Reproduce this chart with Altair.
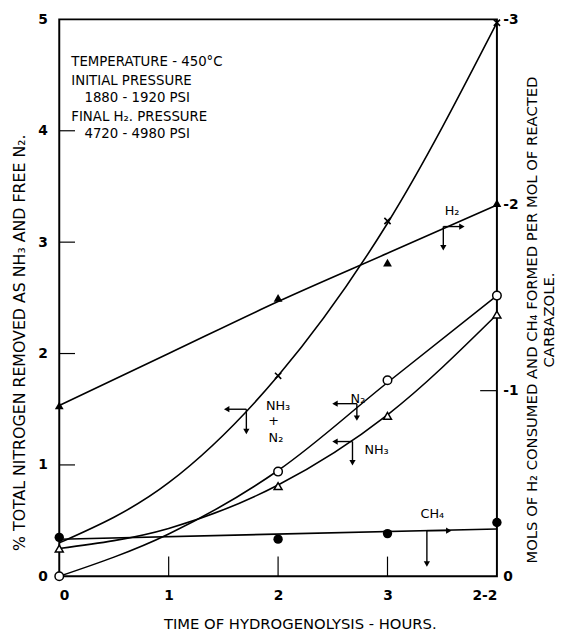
import altair as alt
import pandas as pd

# ---------------- data ----------------
# measured points (markers)
mark_hours = [0, 2, 3, 4]
nh3_n2_hours = [2, 3, 4]
nh3_n2_vals = [1.80, 3.19, 4.97]          # x markers, left axis (%)
n2_vals = [0.0, 0.94, 1.76, 2.52]         # open circles, left axis (%)
nh3_vals = [0.25, 0.81, 1.44, 2.35]       # open triangles, left axis (%)
h2_vals = [0.92, 1.50, 1.69, 2.01]        # filled triangles, right axis (mols)
ch4_vals = [0.21, 0.20, 0.23, 0.29]       # filled circles, right axis (mols)

# smooth drawn curves
curve_hours = [0, 1, 2, 3, 4]
nh3_n2_curve = [0.30, 0.84, 1.80, 3.17, 4.97]
n2_curve = [0.0, 0.38, 0.95, 1.74, 2.52]
nh3_curve = [0.25, 0.43, 0.82, 1.45, 2.35]
h2_curve = [0.92, 1.20, 1.48, 1.74, 2.00]
ch4_line_hours = [0, 4]
ch4_curve = [0.20, 0.255]

# annotation arrows (left-axis units)
arrow_x = [1.71, 2.72, 2.68, 3.51, 3.36]
arrow_y = [1.50, 1.55, 1.21, 3.14, 0.41]
arrow_hx = [1.53, 2.52, 2.52, 3.68, 3.56]
arrow_vy = [1.30, 1.42, 1.02, 2.95, 0.11]
arrow_shape = ["triangle-left", "triangle-left", "triangle-left", "triangle-right", "triangle-right"]

# curve labels
label_text = ["NH₃", "+", "N₂", "N₂", "NH₃", "H₂", "CH₄"]
label_x = [2.0, 1.96, 1.98, 2.73, 2.90, 3.59, 3.41]
label_y = [1.53, 1.39, 1.24, 1.59, 1.13, 3.28, 0.56]

# condition box text
cond_text = ["TEMPERATURE - 450°C", "INITIAL PRESSURE", "1880 - 1920 PSI",
             "FINAL H₂. PRESSURE", "4720 - 4980 PSI"]
cond_x = [0.11, 0.11, 0.23, 0.11, 0.23]
cond_y = [4.62, 4.45, 4.29, 4.12, 3.97]

x_ticks = [0, 1, 2, 3, 4]
x_inner_ticks = [1, 2, 3]
left_ticks = [0, 1, 2, 3, 4, 5]
left_inner_ticks = [1, 2, 3, 4]
right_ticks = [0, 1, 2, 3]
right_inner_ticks = [1]

FONT = "DejaVu Sans"
W, H = 444, 565

# ---------------- tables ----------------
def curve_df(hours, vals, name):
    return pd.DataFrame({"h": hours, "v": vals, "s": name})

left_curves = pd.concat([
    curve_df(curve_hours, nh3_n2_curve, "nh3n2"),
    curve_df(curve_hours, n2_curve, "n2"),
    curve_df(curve_hours, nh3_curve, "nh3"),
])
right_curves = pd.concat([
    curve_df(curve_hours, h2_curve, "h2"),
    curve_df(ch4_line_hours, ch4_curve, "ch4"),
])
x_marks = pd.DataFrame({"h": nh3_n2_hours, "v": nh3_n2_vals})
n2_marks = pd.DataFrame({"h": mark_hours, "v": n2_vals})
nh3_marks = pd.DataFrame({"h": mark_hours, "v": nh3_vals})
h2_marks = pd.DataFrame({"h": mark_hours, "v": h2_vals})
ch4_marks = pd.DataFrame({"h": mark_hours, "v": ch4_vals})
arrows = pd.DataFrame({"h": arrow_x, "v": arrow_y, "hx": arrow_hx, "vy": arrow_vy,
                       "shape": arrow_shape})
labels = pd.DataFrame({"h": label_x, "v": label_y, "t": label_text})
cond = pd.DataFrame({"h": cond_x, "v": cond_y, "t": cond_text})

# ---------------- scales / axes ----------------
xs = alt.Scale(domain=[0, 4], nice=False, zero=False)
x_axis = alt.Axis(values=x_ticks, labelExpr="datum.value == 4 ? '2-2' : datum.label",
                  ticks=False, domain=False, grid=False, labelPadding=13,
                  labelFontSize=14, labelFontWeight="bold",
                  title="TIME OF HYDROGENOLYSIS - HOURS.", titlePadding=14,
                  titleX=W / 2 + 22)
X = alt.X("h:Q", scale=xs, axis=x_axis)

ls = alt.Scale(domain=[0, 5], nice=False, zero=False)
l_axis = alt.Axis(values=left_ticks, ticks=False, domain=False, grid=False,
                  labelPadding=12, labelFontSize=14, labelFontWeight="bold",
                  title="% TOTAL NITROGEN REMOVED AS NH₃ AND FREE N₂.", titlePadding=11,
                  titleY=H / 2 + 45, titleFontSize=16)
YL = alt.Y("v:Q", scale=ls, axis=l_axis)

rs = alt.Scale(domain=[0, 3], nice=False, zero=False)
r_axis = alt.Axis(orient="right", values=right_ticks,
                  labelExpr="datum.value == 0 ? '0' : '-' + datum.label",
                  ticks=False, domain=False, grid=False, labelPadding=6,
                  labelFontSize=14, labelFontWeight="bold",
                  title=["MOLS OF H₂ CONSUMED AND CH₄ FORMED PER MOL OF REACTED", "CARBAZOLE."],
                  titleAngle=270, titlePadding=5, titleLineHeight=17,
                  titleY=H / 2 + 22, titleFontSize=15)
YR = alt.Y("v:Q", scale=rs, axis=r_axis)

X_HX = alt.X("hx:Q", scale=xs, axis=x_axis)
Y_VY = alt.Y("vy:Q", scale=ls, axis=l_axis)

# ---------------- left layers ----------------
l_lines = alt.Chart(left_curves).mark_line(interpolate="monotone", color="black",
                                           strokeWidth=1.6).encode(X, YL, detail="s:N")
l_x = alt.Chart(x_marks).mark_point(shape="M-1,-1L1,1M-1,1L1,-1", filled=False, color="black",
                                    strokeWidth=1.6, size=40, opacity=1).encode(X, YL)
l_n2 = alt.Chart(n2_marks).mark_point(shape="circle", filled=True, fill="white",
                                      stroke="black", strokeWidth=1.5, size=75,
                                      opacity=1).encode(X, YL)
l_nh3 = alt.Chart(nh3_marks).mark_point(shape="triangle-up", filled=True, fill="white",
                                        stroke="black", strokeWidth=1.5, size=65,
                                        opacity=1).encode(X, YL)
l_arrow_h = alt.Chart(arrows).mark_rule(color="black", strokeWidth=1.4).encode(
    X, alt.X2("hx"), YL)
l_arrow_v = alt.Chart(arrows).mark_rule(color="black", strokeWidth=1.4).encode(
    X, YL, alt.Y2("vy"))
l_head_h = alt.Chart(arrows).mark_point(filled=True, color="black", size=40, opacity=1).encode(
    X_HX, YL, shape=alt.Shape("shape:N", scale=None))
l_head_v = alt.Chart(arrows).mark_point(filled=True, color="black", size=40, opacity=1,
                                        shape="triangle-down").encode(X, Y_VY)
l_labels = alt.Chart(labels).mark_text(font=FONT, fontSize=13, color="black",
                                       align="center", baseline="middle").encode(
    X, YL, text="t:N")
l_cond = alt.Chart(cond).mark_text(font=FONT, fontSize=13.5, color="black",
                                   align="left", baseline="middle").encode(
    X, YL, text="t:N")

# inward tick marks
xt = alt.Chart(pd.DataFrame({"h": x_inner_ticks})).mark_rule(color="black", strokeWidth=1.2).encode(
    X, y=alt.value(H), y2=alt.value(H - 20))
lt = alt.Chart(pd.DataFrame({"v": left_inner_ticks})).mark_rule(color="black", strokeWidth=1.2).encode(
    YL, x=alt.value(0), x2=alt.value(16))

left = alt.layer(l_lines, xt, lt, l_arrow_h, l_arrow_v, l_head_h, l_head_v,
                 l_n2, l_nh3, l_x, l_labels, l_cond)

# ---------------- right layers ----------------
r_lines = alt.Chart(right_curves).mark_line(interpolate="monotone", color="black",
                                            strokeWidth=1.6).encode(X, YR, detail="s:N")
r_h2 = alt.Chart(h2_marks).mark_point(shape="triangle-up", filled=True, color="black",
                                      size=80, opacity=1).encode(X, YR)
r_ch4 = alt.Chart(ch4_marks).mark_point(shape="circle", filled=True, color="black",
                                        size=90, opacity=1).encode(X, YR)
rt = alt.Chart(pd.DataFrame({"v": right_inner_ticks})).mark_rule(color="black", strokeWidth=1.2).encode(
    YR, x=alt.value(W), x2=alt.value(W - 17))

right = alt.layer(r_lines, rt, r_h2, r_ch4)

chart = (
    alt.layer(left, right)
    .resolve_scale(y="independent")
    .properties(width=W, height=H, autosize=alt.AutoSizeParams(type="none"),
                padding={"left": 52, "top": 7, "right": 64, "bottom": 55})
    .configure_view(stroke="black", strokeWidth=2)
    .configure_axis(labelFont=FONT, titleFont=FONT, labelColor="black", titleColor="black",
                    titleFontSize=15, titleFontWeight="normal")
)

chart.save("out.html", embed_options={"renderer": "svg", "actions": False})
